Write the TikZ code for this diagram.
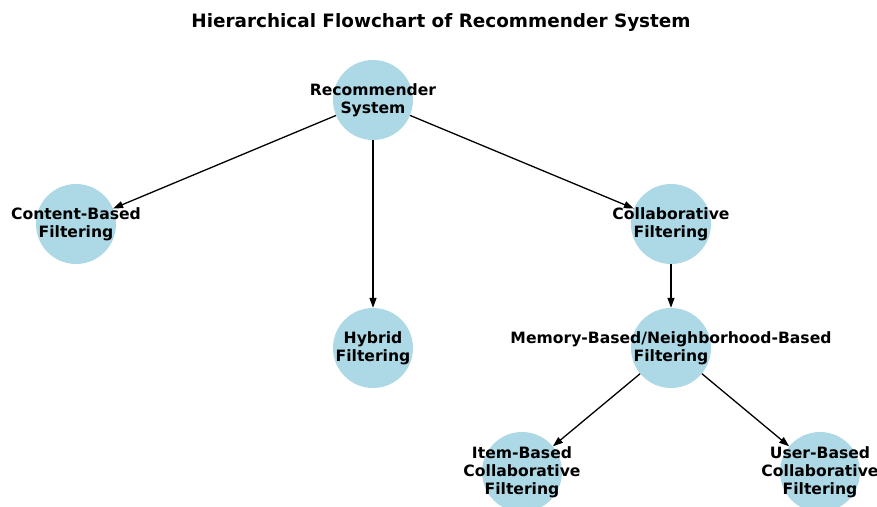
\documentclass[tikz,border=0pt]{standalone}
\usepackage{fontspec}
\setmainfont{DejaVu Sans}
\usetikzlibrary{arrows.meta}
\definecolor{nodeblue}{HTML}{ADD8E6}
\tikzset{
  circ/.style={circle,fill=nodeblue,minimum size=80pt,inner sep=0pt},
  lbl/.style={font=\fontsize{15.6}{18}\selectfont\bfseries,align=center,inner sep=0pt},
  edge/.style={draw=black,line width=1.3pt,-{Triangle[length=10pt,width=7pt]}},
}
\begin{document}
\begin{tikzpicture}[x=1pt,y=-1pt]
\useasboundingbox (0,0) rectangle (877,506);
\clip (0,0) rectangle (877,506);
\node[font=\fontsize{18.4}{22}\selectfont\bfseries] (title) at (441,22) {Hierarchical Flowchart of Recommender System};
\node[circ] (rec) at (373,100) {};
\node[circ] (cb) at (76,224) {};
\node[circ] (cf) at (671,224) {};
\node[circ] (hy) at (373,348) {};
\node[circ] (mb) at (671,348) {};
\node[circ] (ib) at (522,472) {};
\node[circ] (ub) at (820,472) {};
\draw[edge] (rec) -- (cb);
\draw[edge] (rec) -- (hy);
\draw[edge] (rec) -- (cf);
\draw[edge] (cf) -- (mb);
\draw[edge] (mb) -- (ib);
\draw[edge] (mb) -- (ub);
\node[lbl] (recl) at (rec) {Recommender\\System};
\node[lbl] (cbl) at (cb) {Content-Based\\Filtering};
\node[lbl] (cfl) at (cf) {Collaborative\\Filtering};
\node[lbl] (hyl) at (hy) {Hybrid\\Filtering};
\node[lbl] (mbl) at (mb) {Memory-Based/Neighborhood-Based\\Filtering};
\node[lbl] (ibl) at (ib) {Item-Based\\Collaborative\\Filtering};
\node[lbl] (ubl) at (ub) {User-Based\\Collaborative\\Filtering};
\end{tikzpicture}
\end{document}
